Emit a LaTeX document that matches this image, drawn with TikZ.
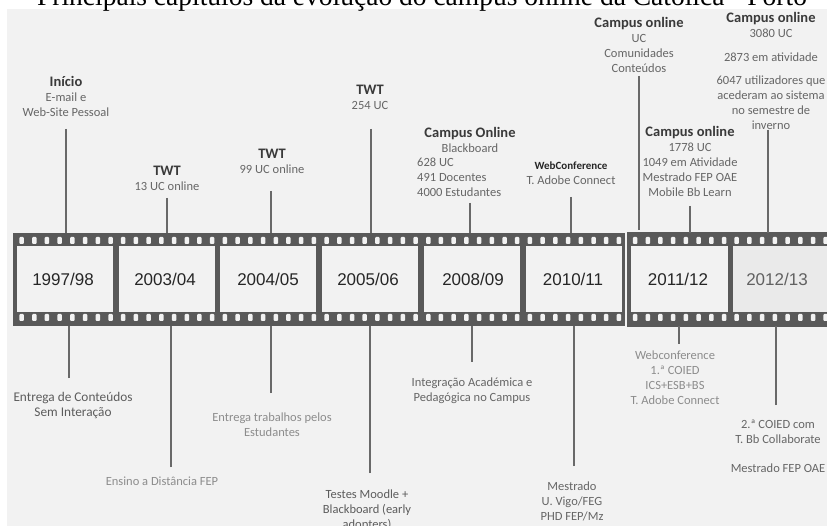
\documentclass[tikz,border=0pt]{standalone}
\usepackage{fontspec}
\setmainfont{Carlito}
\newfontfamily\yrfont{Liberation Sans}
\newfontfamily\ttlfont{Liberation Serif}
\definecolor{bggray}{HTML}{F2F2F2}
\definecolor{frmdark}{HTML}{EAEAEA}
\definecolor{filmgray}{HTML}{595959}
\definecolor{linegray}{HTML}{696969}
\definecolor{hdgray}{HTML}{3A3A3A}
\definecolor{txtgray}{HTML}{666666}
\definecolor{ltgray}{HTML}{8C8C8C}
\newcommand{\hd}[1]{{\bfseries\fontsize{14.5}{15}\selectfont\color{hdgray}#1}}

\begin{document}
\begin{tikzpicture}[
  x=1pt, y=-1pt,
  film/.style={fill=filmgray},
  frm/.style={fill=bggray},
  hole/.style={fill=bggray, rounded corners=1pt},
  cnx/.style={draw=linegray, line width=2pt},
  yr/.style={font=\yrfont\fontsize{17}{17}\selectfont, text=black!85,
    minimum width=96pt, minimum height=93pt, inner sep=0pt},
  lbl/.style={font=\fontsize{12.5}{15}\selectfont, text=txtgray, align=center, inner sep=0pt},
  lbllt/.style={lbl, text=ltgray},
  lbldk/.style={lbl, text=black!64},
]

\useasboundingbox (0,0) rectangle (827,526);
\fill [bggray] (7,9) rectangle (827,526);
\node [anchor=base, font=\ttlfont\fontsize{27.5}{30}\selectfont] (title) at (422,5.5)
  {Principais capítulos da evolução do campus online da Católica - Porto};

% film strip
\fill [film] (13,233) rectangle (625,326);
\fill [film] (627,232) rectangle (827,327);
\foreach \i in {0,...,5}
  \fill [frm] (17+101.7*\i,246) rectangle +(96,66);
\fill [frm] (631,246) rectangle (728,312);
\fill [frmdark] (733,246) rectangle (827,312);
\foreach \n in {0,...,47} {
  \fill [hole] (19.3+12.71*\n,237) rectangle +(4.5,7);
  \fill [hole] (19.3+12.71*\n,314) rectangle +(4.5,7);
}
\foreach \n in {0,...,15} {
  \fill [hole] (632.8+12.71*\n,237) rectangle +(4.5,7);
  \fill [hole] (632.8+12.71*\n,314) rectangle +(4.5,7);
}

\node [yr] (y9798) at (63,279.5) {1997/98};
\node [yr] (y0304) at (165,279.5) {2003/04};
\node [yr] (y0405) at (268,279.5) {2004/05};
\node [yr] (y0506) at (368,279.5) {2005/06};
\node [yr] (y0809) at (473,279.5) {2008/09};
\node [yr] (y1011) at (573,279.5) {2010/11};
\node [yr] (y1112) at (678,279.5) {2011/12};
\node [yr, text=black!62] (y1213) at (777,279.5) {2012/13};

% upper labels
\node [lbl] (l9798) at (66,96) {\hd{Início}\\E-mail e\\Web-Site Pessoal};
\node [lbl] (l0304) at (167,178.5) {\hd{TWT}\\13 UC online};
\node [lbl] (l0405) at (272,161.5) {\hd{TWT}\\99 UC online};
\node [lbl] (l0506) at (370,97.5) {\hd{TWT}\\254 UC};
\node [lbl] (l0809) at (470,139.5) {\hd{Campus Online}\\Blackboard};
\node [lbl, align=left, anchor=west] (n0809) at (417,177.5) {628 UC\\491 Docentes\\4000 Estudantes};
\node [lbl] (l1011) at (571,173)
  {{\bfseries\fontsize{11}{13}\selectfont\color{black!85}WebConference}\\T. Adobe Connect};
\node [lbl] (l1112a) at (639,44.5) {\hd{Campus online}\\UC\\Comunidades\\Conteúdos};
\node [lbl] (l1112b) at (690,161.5)
  {\hd{Campus online}\\1778 UC\\1049 em Atividade\\Mestrado FEP OAE\\Mobile Bb Learn};
\node [lbl] (l1213) at (771,71)
  {\hd{Campus online}\\3080 UC\\[9pt]2873 em atividade\\[8pt]6047 utilizadores que\\acederam ao sistema\\no semestre de\\inverno};

\coordinate (t1) at (66,129);
\coordinate (t2) at (167,198);
\coordinate (t3) at (271,191);
\coordinate (t4) at (371,129);
\coordinate (t5) at (470,203);
\coordinate (t6) at (571,197);
\coordinate (t7) at (639,76);
\coordinate (t8) at (690,206);
\coordinate (t9) at (768,130);
\draw [cnx] (t1) -- (t1 |- y9798.north);
\draw [cnx] (t2) -- (t2 |- y0304.north);
\draw [cnx] (t3) -- (t3 |- y0405.north);
\draw [cnx] (t4) -- (t4 |- y0506.north);
\draw [cnx] (t5) -- (t5 |- y0809.north);
\draw [cnx] (t6) -- (t6 |- y1011.north);
\draw [cnx] (t7) -- ([yshift=3pt]t7 |- y1112.north);
\draw [cnx] (t8) -- (t8 |- y1112.north);
\draw [cnx] (t9) -- (t9 |- y1213.north);

% lower labels
\node [lbldk, font=\fontsize{13.3}{15}\selectfont] (m9798) at (73,405) {Entrega de Conteúdos\\Sem Interação};
\node [lbllt] (m0304) at (162,481) {Ensino a Distância FEP};
\node [lbllt] (m0405) at (272,425) {Entrega trabalhos pelos\\Estudantes};
\node [lbldk] (m0506) at (367,510) {Testes Moodle +\\Blackboard (early\\adopters)};
\node [lbl] (m0809) at (472,390.5) {Integração Académica e\\Pedagógica no Campus};
\node [lbl] (m1011) at (572,501.5) {Mestrado\\U. Vigo/FEG\\PHD FEP/Mz};
\node [lbllt] (m1112) at (675,378) {Webconference\\1.ª COIED\\ICS+ESB+BS\\T. Adobe Connect};
\node [lbl] (m1213) at (778,446.5) {2.ª COIED com\\T. Bb Collaborate\\[14pt]Mestrado FEP OAE};

\coordinate (b1) at (69,378);
\coordinate (b2) at (171,467);
\coordinate (b3) at (271,393);
\coordinate (b4) at (370,473);
\coordinate (b5) at (472,362);
\coordinate (b6) at (574,466);
\coordinate (b7) at (679,344);
\coordinate (b8) at (776,405);
\draw [cnx] (b1) -- (b1 |- y9798.south);
\draw [cnx] (b2) -- (b2 |- y0304.south);
\draw [cnx] (b3) -- (b3 |- y0405.south);
\draw [cnx] (b4) -- (b4 |- y0506.south);
\draw [cnx] (b5) -- (b5 |- y0809.south);
\draw [cnx] (b6) -- (b6 |- y1011.south);
\draw [cnx] (b7) -- (b7 |- y1112.south);
\draw [cnx] (b8) -- (b8 |- y1213.south);

\end{tikzpicture}
\end{document}
